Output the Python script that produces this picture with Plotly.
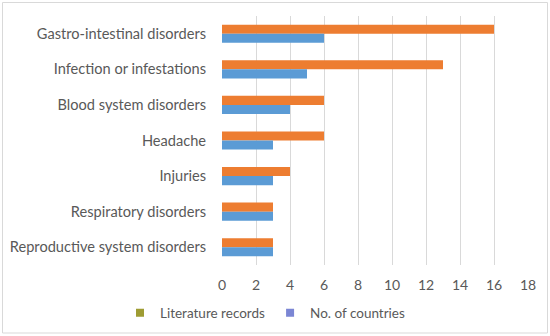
import plotly.graph_objects as go

categories = ["Gastro-intestinal disorders", "Infection or infestations", "Blood system disorders",
              "Headache", "Injuries", "Respiratory disorders", "Reproductive system disorders"]
literature_records = [16, 13, 6, 6, 4, 3, 3]
no_of_countries = [6, 5, 4, 3, 3, 3, 3]
x_ticks = [0, 2, 4, 6, 8, 10, 12, 14, 16, 18]

ORANGE = "#ED7D31"
BLUE = "#5B9BD5"

fig = go.Figure()
fig.add_trace(go.Bar(y=categories, x=literature_records, orientation="h", name="Literature records",
                     marker=dict(color=ORANGE, line=dict(width=0)), showlegend=False))
fig.add_trace(go.Bar(y=categories, x=no_of_countries, orientation="h", name="No. of countries",
                     marker=dict(color=BLUE, line=dict(width=0)), showlegend=False))
# legend entries (swatch colours as shown in the reference legend)
fig.add_trace(go.Scatter(x=[None], y=[None], mode="markers", name="Literature records",
                         marker=dict(symbol="square", size=8, color="#9E9C33")))
fig.add_trace(go.Scatter(x=[None], y=[None], mode="markers", name="No. of countries",
                         marker=dict(symbol="square", size=8, color="#7B86D4")))

L, R, T, B = 222, 22, 16, 71
W, H = 550, 336
pw, ph = W - L - R, H - T - B

fig.update_layout(
    width=W, height=H,
    margin=dict(l=L, r=R, t=T, b=B, autoexpand=False),
    barmode="group", bargap=0.49, bargroupgap=0,
    paper_bgcolor="white", plot_bgcolor="white",
    font=dict(family="Lato, Open Sans, sans-serif", color="#595959", size=13),
    xaxis=dict(range=[0, 18], tickvals=x_ticks, showgrid=True, gridcolor="#D9D9D9", gridwidth=1,
               zeroline=False, showline=False, ticks="", tickfont=dict(size=14, color="#595959"),
               automargin=False, ticklabelstandoff=10, fixedrange=True),
    yaxis=dict(categoryorder="array", categoryarray=categories, autorange="reversed",
               showgrid=False, zeroline=False, showline=False, ticks="", ticklabelstandoff=15,
               automargin=False, tickfont=dict(size=14.6, color="#595959"), fixedrange=True),
    legend=dict(orientation="h", x=(265 - L) / pw, xanchor="center", y=(H - B - 313) / ph,
                yanchor="middle", font=dict(size=13.5, color="#595959"), itemwidth=30,
                traceorder="normal", bgcolor="rgba(0,0,0,0)"),
    shapes=[dict(type="rect", xref="paper", yref="paper",
                 x0=(2.5 - L) / pw, x1=(547.5 - L) / pw,
                 y0=(H - B - 333) / ph, y1=(H - B - 2.5) / ph,
                 line=dict(color="#D9D9D9", width=1), fillcolor="rgba(0,0,0,0)", layer="below")],
)

fig.write_html("out.html", config={"displayModeBar": False},
               post_script="document.body.style.margin='0';")
